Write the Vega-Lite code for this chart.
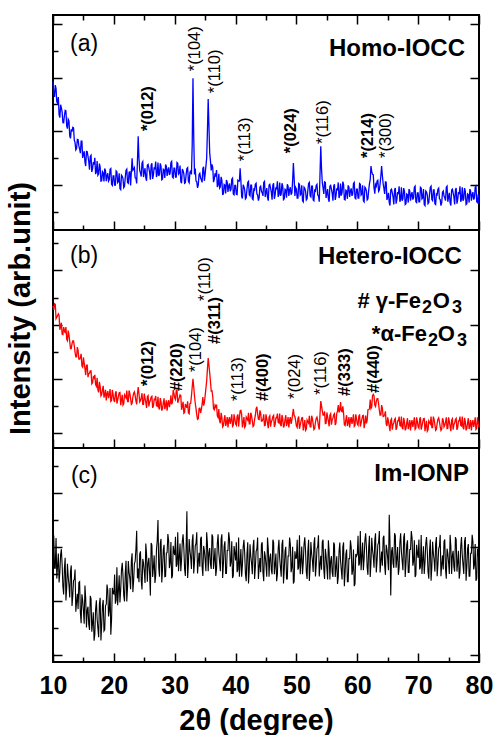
{
"$schema": "https://vega.github.io/schema/vega-lite/v6.json",
"background": "white",
"padding": {"left": 4, "top": 13, "right": 5, "bottom": 5},
"spacing": 0,
"bounds": "flush",
"config": {"view": {"stroke": "black", "strokeWidth": 2}, "font": "Liberation Sans", "text": {"font": "Liberation Sans"}},
"datasets": {
"xrd": [
{"t":10,"a":586,"b":569,"c":485},{"t":10.25,"a":528,"b":577,"c":422},{"t":10.5,"a":559,"b":522,"c":533},{"t":10.75,"a":505,"b":534,"c":429},
{"t":11,"a":462,"b":534,"c":369},{"t":11.25,"a":499,"b":494,"c":471},{"t":11.5,"a":472,"b":464,"c":436},{"t":11.75,"a":432,"b":491,"c":324},
{"t":12,"a":478,"b":469,"c":460},{"t":12.25,"a":420,"b":446,"c":349},{"t":12.5,"a":445,"b":478,"c":390},{"t":12.75,"a":383,"b":438,"c":313},
{"t":13,"a":408,"b":412,"c":432},{"t":13.25,"a":415,"b":440,"c":320},{"t":13.5,"a":367,"b":422,"c":380},{"t":13.75,"a":331,"b":381,"c":260},
{"t":14,"a":370,"b":417,"c":327},{"t":14.25,"a":346,"b":373,"c":369},{"t":14.5,"a":319,"b":379,"c":257},{"t":14.75,"a":364,"b":347,"c":325},
{"t":15,"a":315,"b":379,"c":264},{"t":15.25,"a":286,"b":338,"c":357},{"t":15.5,"a":325,"b":351,"c":202},{"t":15.75,"a":307,"b":306,"c":279},
{"t":16,"a":257,"b":321,"c":193},{"t":16.25,"a":311,"b":329,"c":308},{"t":16.5,"a":261,"b":286,"c":218},{"t":16.75,"a":276,"b":303,"c":153},
{"t":17,"a":241,"b":279,"c":269},{"t":17.25,"a":290,"b":304,"c":235},{"t":17.5,"a":242,"b":250,"c":166},{"t":17.75,"a":267,"b":272,"c":312},
{"t":18,"a":216,"b":242,"c":210},{"t":18.25,"a":245,"b":274,"c":304},{"t":18.5,"a":262,"b":242,"c":194},{"t":18.75,"a":215,"b":220,"c":288},
{"t":19,"a":244,"b":255,"c":341},{"t":19.25,"a":221,"b":242,"c":266},{"t":19.5,"a":262,"b":217,"c":175},{"t":19.75,"a":199,"b":259,"c":349},
{"t":20,"a":234,"b":222,"c":326},{"t":20.25,"a":200,"b":247,"c":290},{"t":20.5,"a":250,"b":209,"c":425},{"t":20.75,"a":213,"b":236,"c":339},
{"t":21,"a":187,"b":250,"c":295},{"t":21.25,"a":237,"b":222,"c":413},{"t":21.5,"a":224,"b":203,"c":394},{"t":21.75,"a":196,"b":241,"c":298},
{"t":22,"a":255,"b":230,"c":449},{"t":22.25,"a":210,"b":216,"c":351},{"t":22.5,"a":248,"b":257,"c":407},{"t":22.75,"a":199,"b":227,"c":344},
{"t":23,"a":300,"b":210,"c":477},{"t":23.25,"a":259,"b":247,"c":376},{"t":23.5,"a":227,"b":238,"c":448},{"t":23.75,"a":206,"b":206,"c":560},
{"t":24,"a":382,"b":270,"c":420},{"t":24.25,"a":255,"b":215,"c":474},{"t":24.5,"a":232,"b":230,"c":375},{"t":24.75,"a":288,"b":206,"c":456},
{"t":25,"a":248,"b":246,"c":409},{"t":25.25,"a":227,"b":213,"c":513},{"t":25.5,"a":274,"b":234,"c":371},{"t":25.75,"a":263,"b":198,"c":460},
{"t":26,"a":220,"b":221,"c":320},{"t":26.25,"a":281,"b":236,"c":507},{"t":26.5,"a":238,"b":200,"c":424},{"t":26.75,"a":259,"b":223,"c":367},
{"t":27,"a":230,"b":201,"c":489},{"t":27.25,"a":284,"b":234,"c":600},{"t":27.5,"a":241,"b":187,"c":390},{"t":27.75,"a":270,"b":215,"c":530},
{"t":28,"a":223,"b":190,"c":421},{"t":28.25,"a":256,"b":228,"c":508},{"t":28.5,"a":277,"b":201,"c":391},{"t":28.75,"a":234,"b":183,"c":479},
{"t":29,"a":266,"b":221,"c":524},{"t":29.25,"a":245,"b":210,"c":440},{"t":29.5,"a":288,"b":206,"c":384},{"t":29.75,"a":227,"b":259,"c":505},
{"t":30,"a":263,"b":230,"c":470},{"t":30.25,"a":230,"b":255,"c":427},{"t":30.5,"a":281,"b":212,"c":555},{"t":30.75,"a":245,"b":231,"c":461},
{"t":31,"a":213,"b":238,"c":410},{"t":31.25,"a":260,"b":200,"c":521},{"t":31.5,"a":242,"b":173,"c":496},{"t":31.75,"a":209,"b":207,"c":393},
{"t":32,"a":262,"b":193,"c":633},{"t":32.25,"a":214,"b":174,"c":436},{"t":32.5,"a":248,"b":209,"c":487},{"t":32.75,"a":240,"b":237,"c":419},
{"t":33,"a":598,"b":300,"c":547},{"t":33.25,"a":240,"b":237,"c":444},{"t":33.5,"a":215,"b":190,"c":513},{"t":33.75,"a":190,"b":151,"c":402},
{"t":34,"a":240,"b":191,"c":479},{"t":34.25,"a":226,"b":174,"c":530},{"t":34.5,"a":210,"b":206,"c":427},{"t":34.75,"a":268,"b":201,"c":504},
{"t":35,"a":241,"b":237,"c":453},{"t":35.25,"a":300,"b":292,"c":555},{"t":35.5,"a":520,"b":377,"c":410},{"t":35.75,"a":320,"b":322,"c":496},
{"t":36,"a":255,"b":255,"c":419},{"t":36.25,"a":265,"b":235,"c":538},{"t":36.5,"a":221,"b":186,"c":453},{"t":36.75,"a":232,"b":196,"c":393},
{"t":37,"a":193,"b":164,"c":513},{"t":37.25,"a":242,"b":189,"c":479},{"t":37.5,"a":194,"b":136,"c":410},{"t":37.75,"a":218,"b":158,"c":547},
{"t":38,"a":167,"b":128,"c":436},{"t":38.25,"a":199,"b":166,"c":521},{"t":38.5,"a":219,"b":139,"c":402},{"t":38.75,"a":175,"b":121,"c":487},
{"t":39,"a":206,"b":159,"c":530},{"t":39.25,"a":184,"b":148,"c":444},{"t":39.5,"a":226,"b":125,"c":385},{"t":39.75,"a":164,"b":169,"c":504},
{"t":40,"a":199,"b":134,"c":450},{"t":40.25,"a":165,"b":162,"c":407},{"t":40.5,"a":215,"b":124,"c":535},{"t":40.75,"a":263,"b":182,"c":441},
{"t":41,"a":158,"b":168,"c":390},{"t":41.25,"a":201,"b":140,"c":501},{"t":41.5,"a":182,"b":121,"c":476},{"t":41.75,"a":153,"b":159,"c":373},
{"t":42,"a":210,"b":148,"c":518},{"t":42.25,"a":164,"b":134,"c":416},{"t":42.5,"a":200,"b":175,"c":467},{"t":42.75,"a":149,"b":145,"c":399},
{"t":43,"a":185,"b":128,"c":527},{"t":43.25,"a":203,"b":165,"c":424},{"t":43.5,"a":167,"b":197,"c":493},{"t":43.75,"a":142,"b":151,"c":382},
{"t":44,"a":192,"b":184,"c":459},{"t":44.25,"a":178,"b":144,"c":510},{"t":44.5,"a":160,"b":151,"c":407},{"t":44.75,"a":214,"b":128,"c":484},
{"t":45,"a":174,"b":169,"c":433},{"t":45.25,"a":153,"b":137,"c":535},{"t":45.5,"a":200,"b":159,"c":390},{"t":45.75,"a":189,"b":124,"c":476},
{"t":46,"a":146,"b":148,"c":399},{"t":46.25,"a":207,"b":165,"c":518},{"t":46.5,"a":164,"b":131,"c":433},{"t":46.75,"a":185,"b":156,"c":373},
{"t":47,"a":156,"b":139,"c":493},{"t":47.25,"a":210,"b":172,"c":459},{"t":47.5,"a":167,"b":125,"c":390},{"t":47.75,"a":196,"b":153,"c":527},
{"t":48,"a":149,"b":128,"c":416},{"t":48.25,"a":182,"b":166,"c":501},{"t":48.5,"a":203,"b":139,"c":382},{"t":48.75,"a":160,"b":121,"c":467},
{"t":49,"a":192,"b":159,"c":510},{"t":49.25,"a":171,"b":148,"c":424},{"t":49.5,"a":282,"b":189,"c":365},{"t":49.75,"a":160,"b":161,"c":484},
{"t":50,"a":185,"b":126,"c":459},{"t":50.25,"a":152,"b":154,"c":416},{"t":50.5,"a":203,"b":116,"c":544},{"t":50.75,"a":167,"b":143,"c":450},
{"t":51,"a":142,"b":157,"c":399},{"t":51.25,"a":192,"b":129,"c":510},{"t":51.5,"a":178,"b":110,"c":485},{"t":51.75,"a":149,"b":148,"c":382},
{"t":52,"a":206,"b":137,"c":527},{"t":52.25,"a":160,"b":123,"c":425},{"t":52.5,"a":196,"b":164,"c":476},{"t":52.75,"a":145,"b":134,"c":408},
{"t":53,"a":181,"b":117,"c":536},{"t":53.25,"a":199,"b":154,"c":433},{"t":53.5,"a":163,"b":145,"c":502},{"t":53.75,"a":138,"b":113,"c":391},
{"t":54,"a":345,"b":218,"c":468},{"t":54.25,"a":210,"b":182,"c":519},{"t":54.5,"a":167,"b":166,"c":416},{"t":54.75,"a":210,"b":135,"c":493},
{"t":55,"a":170,"b":176,"c":423},{"t":55.25,"a":149,"b":144,"c":525},{"t":55.5,"a":196,"b":166,"c":380},{"t":55.75,"a":185,"b":131,"c":466},
{"t":56,"a":142,"b":155,"c":389},{"t":56.25,"a":203,"b":172,"c":508},{"t":56.5,"a":160,"b":138,"c":423},{"t":56.75,"a":181,"b":181,"c":363},
{"t":57,"a":152,"b":176,"c":483},{"t":57.25,"a":206,"b":214,"c":449},{"t":57.5,"a":173,"b":179,"c":380},{"t":57.75,"a":202,"b":173,"c":517},
{"t":58,"a":145,"b":128,"c":406},{"t":58.25,"a":178,"b":166,"c":491},{"t":58.5,"a":199,"b":139,"c":372},{"t":58.75,"a":156,"b":121,"c":457},
{"t":59,"a":188,"b":159,"c":500},{"t":59.25,"a":167,"b":148,"c":414},{"t":59.5,"a":210,"b":125,"c":355},{"t":59.75,"a":149,"b":169,"c":474},
{"t":60,"a":185,"b":134,"c":474},{"t":60.25,"a":152,"b":162,"c":431},{"t":60.5,"a":203,"b":124,"c":559},{"t":60.75,"a":167,"b":151,"c":465},
{"t":61,"a":142,"b":165,"c":414},{"t":61.25,"a":192,"b":137,"c":525},{"t":61.5,"a":178,"b":136,"c":500},{"t":61.75,"a":149,"b":186,"c":397},
{"t":62,"a":206,"b":189,"c":542},{"t":62.25,"a":271,"b":191,"c":440},{"t":62.5,"a":240,"b":238,"c":491},{"t":62.75,"a":190,"b":237,"c":423},
{"t":63,"a":202,"b":198,"c":551},{"t":63.25,"a":215,"b":227,"c":448},{"t":63.5,"a":177,"b":208,"c":517},{"t":63.75,"a":205,"b":166,"c":406},
{"t":64,"a":271,"b":203,"c":483},{"t":64.25,"a":205,"b":161,"c":534},{"t":64.5,"a":167,"b":169,"c":431},{"t":64.75,"a":211,"b":133,"c":508},
{"t":65,"a":156,"b":158,"c":457},{"t":65.25,"a":135,"b":126,"c":620},{"t":65.5,"a":182,"b":148,"c":320},{"t":65.75,"a":171,"b":113,"c":500},
{"t":66,"a":128,"b":137,"c":423},{"t":66.25,"a":189,"b":154,"c":542},{"t":66.5,"a":146,"b":120,"c":457},{"t":66.75,"a":167,"b":145,"c":397},
{"t":67,"a":138,"b":128,"c":517},{"t":67.25,"a":192,"b":161,"c":483},{"t":67.5,"a":149,"b":114,"c":414},{"t":67.75,"a":178,"b":142,"c":551},
{"t":68,"a":131,"b":117,"c":440},{"t":68.25,"a":164,"b":155,"c":525},{"t":68.5,"a":185,"b":128,"c":406},{"t":68.75,"a":142,"b":110,"c":491},
{"t":69,"a":174,"b":148,"c":534},{"t":69.25,"a":153,"b":137,"c":448},{"t":69.5,"a":196,"b":114,"c":389},{"t":69.75,"a":135,"b":158,"c":508},
{"t":70,"a":171,"b":123,"c":460},{"t":70.25,"a":138,"b":151,"c":417},{"t":70.5,"a":189,"b":113,"c":545},{"t":70.75,"a":153,"b":140,"c":451},
{"t":71,"a":128,"b":154,"c":400},{"t":71.25,"a":178,"b":126,"c":511},{"t":71.5,"a":164,"b":107,"c":486},{"t":71.75,"a":135,"b":145,"c":383},
{"t":72,"a":192,"b":134,"c":528},{"t":72.25,"a":146,"b":120,"c":426},{"t":72.5,"a":182,"b":161,"c":477},{"t":72.75,"a":131,"b":131,"c":409},
{"t":73,"a":167,"b":114,"c":537},{"t":73.25,"a":185,"b":151,"c":434},{"t":73.5,"a":149,"b":142,"c":503},{"t":73.75,"a":124,"b":110,"c":392},
{"t":74,"a":174,"b":155,"c":469},{"t":74.25,"a":160,"b":123,"c":520},{"t":74.5,"a":142,"b":140,"c":417},{"t":74.75,"a":196,"b":117,"c":494},
{"t":75,"a":156,"b":158,"c":443},{"t":75.25,"a":135,"b":126,"c":545},{"t":75.5,"a":182,"b":148,"c":400},{"t":75.75,"a":171,"b":113,"c":486},
{"t":76,"a":128,"b":137,"c":409},{"t":76.25,"a":189,"b":154,"c":528},{"t":76.5,"a":146,"b":120,"c":443},{"t":76.75,"a":167,"b":145,"c":383},
{"t":77,"a":138,"b":128,"c":503},{"t":77.25,"a":192,"b":161,"c":469},{"t":77.5,"a":149,"b":114,"c":400},{"t":77.75,"a":178,"b":142,"c":537},
{"t":78,"a":131,"b":117,"c":426},{"t":78.25,"a":164,"b":155,"c":511},{"t":78.5,"a":185,"b":128,"c":392},{"t":78.75,"a":142,"b":110,"c":477},
{"t":79,"a":174,"b":148,"c":520},{"t":79.25,"a":153,"b":137,"c":434},{"t":79.5,"a":196,"b":114,"c":375},{"t":79.75,"a":135,"b":158,"c":494},
{"t":80,"a":130,"b":122,"c":460},
{"t":10.125,"a":540,"b":554,"c":543},{"t":10.375,"a":572,"b":575,"c":422},{"t":10.625,"a":510,"b":527,"c":383},{"t":10.875,"a":528,"b":540,"c":476},
{"t":11.125,"a":451,"b":481,"c":407},{"t":11.375,"a":488,"b":507,"c":492},{"t":11.625,"a":433,"b":463,"c":354},{"t":11.875,"a":458,"b":479,"c":422},
{"t":12.125,"a":476,"b":491,"c":302},{"t":12.375,"a":410,"b":441,"c":438},{"t":12.625,"a":439,"b":462,"c":359},{"t":12.875,"a":374,"b":412,"c":410},
{"t":13.125,"a":399,"b":430,"c":282},{"t":13.375,"a":413,"b":440,"c":375},{"t":13.625,"a":358,"b":398,"c":417},{"t":13.875,"a":336,"b":381,"c":297},
{"t":14.125,"a":369,"b":404,"c":270},{"t":14.375,"a":334,"b":373,"c":372},{"t":14.625,"a":364,"b":392,"c":218},{"t":14.875,"a":301,"b":343,"c":303},
{"t":15.125,"a":326,"b":358,"c":216},{"t":15.375,"a":271,"b":314,"c":310},{"t":15.625,"a":324,"b":351,"c":266},{"t":15.875,"a":288,"b":319,"c":214},
{"t":16.125,"a":307,"b":329,"c":319},{"t":16.375,"a":249,"b":282,"c":186},{"t":16.625,"a":286,"b":307,"c":258},{"t":16.875,"a":302,"b":315,"c":177},
{"t":17.125,"a":249,"b":273,"c":303},{"t":17.375,"a":237,"b":259,"c":200},{"t":17.625,"a":280,"b":289,"c":290},{"t":17.875,"a":215,"b":237,"c":154},
{"t":18.125,"a":250,"b":261,"c":282},{"t":18.375,"a":214,"b":231,"c":189},{"t":18.625,"a":253,"b":260,"c":283},{"t":18.875,"a":235,"b":245,"c":361},
{"t":19.125,"a":215,"b":229,"c":243},{"t":19.375,"a":259,"b":262,"c":348},{"t":19.625,"a":203,"b":220,"c":232},{"t":19.875,"a":234,"b":242,"c":329},
{"t":20.125,"a":200,"b":215,"c":398},{"t":20.375,"a":253,"b":254,"c":303},{"t":20.625,"a":209,"b":222,"c":284},{"t":20.875,"a":244,"b":249,"c":395},
{"t":21.125,"a":183,"b":203,"c":342},{"t":21.375,"a":233,"b":241,"c":442},{"t":21.625,"a":191,"b":208,"c":321},{"t":21.875,"a":229,"b":235,"c":404},
{"t":22.125,"a":259,"b":257,"c":298},{"t":22.375,"a":207,"b":216,"c":448},{"t":22.625,"a":249,"b":246,"c":384},{"t":22.875,"a":250,"b":206,"c":449},
{"t":23.125,"a":255,"b":233,"c":333},{"t":23.375,"a":265,"b":252,"c":438},{"t":23.625,"a":226,"b":219,"c":492},{"t":23.875,"a":290,"b":245,"c":384},
{"t":24.125,"a":300,"b":245,"c":370},{"t":24.375,"a":245,"b":220,"c":484},{"t":24.625,"a":283,"b":247,"c":343},{"t":24.875,"a":230,"b":206,"c":441},
{"t":25.125,"a":263,"b":229,"c":367},{"t":25.375,"a":216,"b":193,"c":473},{"t":25.625,"a":277,"b":238,"c":442},{"t":25.875,"a":248,"b":215,"c":402},
{"t":26.125,"a":274,"b":233,"c":515},{"t":26.375,"a":223,"b":193,"c":389},{"t":26.625,"a":266,"b":224,"c":469},{"t":26.875,"a":288,"b":237,"c":394},
{"t":27.125,"a":241,"b":199,"c":524},{"t":27.375,"a":234,"b":193,"c":423},{"t":27.625,"a":281,"b":229,"c":512},{"t":27.875,"a":220,"b":183,"c":369},
{"t":28.125,"a":259,"b":212,"c":490},{"t":28.375,"a":227,"b":188,"c":390},{"t":28.625,"a":270,"b":221,"c":478},{"t":28.875,"a":256,"b":210,"c":548},
{"t":29.125,"a":238,"b":196,"c":422},{"t":29.375,"a":284,"b":239,"c":519},{"t":29.625,"a":230,"b":214,"c":393},{"t":29.875,"a":263,"b":246,"c":480},
{"t":30.125,"a":230,"b":224,"c":538},{"t":30.375,"a":284,"b":260,"c":436},{"t":30.625,"a":241,"b":221,"c":410},{"t":30.875,"a":273,"b":241,"c":513},
{"t":31.125,"a":207,"b":186,"c":453},{"t":31.375,"a":254,"b":215,"c":547},{"t":31.625,"a":207,"b":176,"c":419},{"t":31.875,"a":239,"b":200,"c":496},
{"t":32.125,"a":265,"b":217,"c":385},{"t":32.375,"a":209,"b":171,"c":530},{"t":32.625,"a":252,"b":210,"c":461},{"t":32.875,"a":350,"b":270,"c":521},
{"t":33.125,"a":380,"b":270,"c":402},{"t":33.375,"a":262,"b":210,"c":504},{"t":33.625,"a":212,"b":167,"c":555},{"t":33.875,"a":201,"b":153,"c":444},
{"t":34.125,"a":244,"b":192,"c":427},{"t":34.375,"a":220,"b":187,"c":538},{"t":34.625,"a":262,"b":233,"c":393},{"t":34.875,"a":216,"b":212,"c":487},
{"t":35.125,"a":270,"b":265,"c":410},{"t":35.375,"a":400,"b":335,"c":513},{"t":35.625,"a":420,"b":350,"c":479},{"t":35.875,"a":290,"b":290,"c":436},
{"t":36.125,"a":277,"b":256,"c":547},{"t":36.375,"a":211,"b":190,"c":419},{"t":36.625,"a":244,"b":203,"c":496},{"t":36.875,"a":256,"b":205,"c":419},
{"t":37.125,"a":201,"b":158,"c":547},{"t":37.375,"a":189,"b":145,"c":444},{"t":37.625,"a":231,"b":175,"c":530},{"t":37.875,"a":166,"b":123,"c":385},
{"t":38.125,"a":202,"b":150,"c":504},{"t":38.375,"a":169,"b":126,"c":402},{"t":38.625,"a":211,"b":159,"c":487},{"t":38.875,"a":196,"b":148,"c":555},
{"t":39.125,"a":177,"b":134,"c":427},{"t":39.375,"a":222,"b":169,"c":521},{"t":39.625,"a":167,"b":129,"c":393},{"t":39.875,"a":199,"b":153,"c":479},
{"t":40.125,"a":166,"b":129,"c":518},{"t":40.375,"a":218,"b":169,"c":416},{"t":40.625,"a":215,"b":155,"c":390},{"t":40.875,"a":215,"b":184,"c":493},
{"t":41.125,"a":150,"b":121,"c":433},{"t":41.375,"a":194,"b":159,"c":527},{"t":41.625,"a":149,"b":126,"c":399},{"t":41.875,"a":185,"b":153,"c":476},
{"t":42.125,"a":214,"b":175,"c":365},{"t":42.375,"a":160,"b":134,"c":510},{"t":42.625,"a":200,"b":164,"c":441},{"t":42.875,"a":146,"b":124,"c":501},
{"t":43.125,"a":182,"b":151,"c":382},{"t":43.375,"a":207,"b":190,"c":484},{"t":43.625,"a":164,"b":171,"c":535},{"t":43.875,"a":153,"b":150,"c":424},
{"t":44.125,"a":196,"b":173,"c":407},{"t":44.375,"a":171,"b":145,"c":518},{"t":44.625,"a":210,"b":169,"c":373},{"t":44.875,"a":156,"b":129,"c":467},
{"t":45.125,"a":189,"b":153,"c":390},{"t":45.375,"a":142,"b":118,"c":493},{"t":45.625,"a":203,"b":164,"c":459},{"t":45.875,"a":174,"b":142,"c":416},
{"t":46.125,"a":200,"b":161,"c":527},{"t":46.375,"a":149,"b":123,"c":399},{"t":46.625,"a":192,"b":156,"c":476},{"t":46.875,"a":214,"b":172,"c":399},
{"t":47.125,"a":167,"b":137,"c":527},{"t":47.375,"a":160,"b":131,"c":424},{"t":47.625,"a":207,"b":167,"c":510},{"t":47.875,"a":146,"b":121,"c":365},
{"t":48.125,"a":185,"b":150,"c":484},{"t":48.375,"a":153,"b":126,"c":382},{"t":48.625,"a":196,"b":159,"c":467},{"t":48.875,"a":182,"b":148,"c":535},
{"t":49.125,"a":164,"b":134,"c":407},{"t":49.375,"a":215,"b":170,"c":501},{"t":49.625,"a":225,"b":165,"c":373},{"t":49.875,"a":191,"b":145,"c":459},
{"t":50.125,"a":152,"b":121,"c":527},{"t":50.375,"a":206,"b":161,"c":425},{"t":50.625,"a":163,"b":129,"c":399},{"t":50.875,"a":199,"b":156,"c":502},
{"t":51.125,"a":138,"b":110,"c":442},{"t":51.375,"a":188,"b":148,"c":536},{"t":51.625,"a":145,"b":115,"c":408},{"t":51.875,"a":181,"b":142,"c":485},
{"t":52.125,"a":210,"b":164,"c":374},{"t":52.375,"a":156,"b":123,"c":519},{"t":52.625,"a":196,"b":153,"c":450},{"t":52.875,"a":142,"b":113,"c":510},
{"t":53.125,"a":178,"b":140,"c":391},{"t":53.375,"a":203,"b":159,"c":493},{"t":53.625,"a":160,"b":126,"c":544},{"t":53.875,"a":240,"b":170,"c":433},
{"t":54.125,"a":260,"b":200,"c":416},{"t":54.375,"a":190,"b":166,"c":527},{"t":54.625,"a":212,"b":180,"c":382},{"t":54.875,"a":152,"b":136,"c":467},
{"t":55.125,"a":185,"b":160,"c":380},{"t":55.375,"a":138,"b":125,"c":483},{"t":55.625,"a":199,"b":171,"c":449},{"t":55.875,"a":170,"b":149,"c":406},
{"t":56.125,"a":196,"b":168,"c":517},{"t":56.375,"a":145,"b":130,"c":389},{"t":56.625,"a":188,"b":172,"c":466},{"t":56.875,"a":210,"b":203,"c":389},
{"t":57.125,"a":163,"b":185,"c":517},{"t":57.375,"a":161,"b":182,"c":414},{"t":57.625,"a":213,"b":199,"c":500},{"t":57.875,"a":147,"b":131,"c":355},
{"t":58.125,"a":181,"b":150,"c":474},{"t":58.375,"a":149,"b":126,"c":372},{"t":58.625,"a":192,"b":159,"c":457},{"t":58.875,"a":178,"b":148,"c":525},
{"t":59.125,"a":160,"b":134,"c":397},{"t":59.375,"a":206,"b":169,"c":491},{"t":59.625,"a":152,"b":129,"c":363},{"t":59.875,"a":185,"b":153,"c":466},
{"t":60.125,"a":152,"b":129,"c":542},{"t":60.375,"a":206,"b":169,"c":440},{"t":60.625,"a":163,"b":137,"c":414},{"t":60.875,"a":199,"b":164,"c":517},
{"t":61.125,"a":138,"b":118,"c":457},{"t":61.375,"a":188,"b":165,"c":551},{"t":61.625,"a":145,"b":147,"c":423},{"t":61.875,"a":181,"b":187,"c":500},
{"t":62.125,"a":220,"b":224,"c":389},{"t":62.375,"a":250,"b":197,"c":534},{"t":62.625,"a":239,"b":243,"c":465},{"t":62.875,"a":168,"b":203,"c":525},
{"t":63.125,"a":196,"b":217,"c":406},{"t":63.375,"a":218,"b":227,"c":508},{"t":63.625,"a":182,"b":184,"c":559},{"t":63.875,"a":235,"b":167,"c":448},
{"t":64.125,"a":235,"b":191,"c":431},{"t":64.375,"a":188,"b":162,"c":542},{"t":64.625,"a":212,"b":180,"c":397},{"t":64.875,"a":145,"b":126,"c":491},
{"t":65.125,"a":171,"b":142,"c":414},{"t":65.375,"a":124,"b":107,"c":517},{"t":65.625,"a":185,"b":153,"c":483},{"t":65.875,"a":156,"b":131,"c":440},
{"t":66.125,"a":182,"b":150,"c":551},{"t":66.375,"a":131,"b":112,"c":423},{"t":66.625,"a":174,"b":145,"c":500},{"t":66.875,"a":196,"b":161,"c":423},
{"t":67.125,"a":149,"b":126,"c":551},{"t":67.375,"a":142,"b":120,"c":448},{"t":67.625,"a":189,"b":156,"c":534},{"t":67.875,"a":128,"b":110,"c":389},
{"t":68.125,"a":167,"b":139,"c":508},{"t":68.375,"a":135,"b":115,"c":406},{"t":68.625,"a":178,"b":148,"c":491},{"t":68.875,"a":164,"b":137,"c":559},
{"t":69.125,"a":146,"b":123,"c":431},{"t":69.375,"a":192,"b":158,"c":525},{"t":69.625,"a":138,"b":118,"c":397},{"t":69.875,"a":171,"b":142,"c":476},
{"t":70.125,"a":138,"b":118,"c":528},{"t":70.375,"a":192,"b":158,"c":426},{"t":70.625,"a":149,"b":126,"c":400},{"t":70.875,"a":185,"b":153,"c":503},
{"t":71.125,"a":124,"b":107,"c":443},{"t":71.375,"a":174,"b":145,"c":537},{"t":71.625,"a":131,"b":112,"c":409},{"t":71.875,"a":167,"b":139,"c":486},
{"t":72.125,"a":196,"b":161,"c":375},{"t":72.375,"a":142,"b":120,"c":520},{"t":72.625,"a":182,"b":150,"c":451},{"t":72.875,"a":128,"b":110,"c":511},
{"t":73.125,"a":164,"b":137,"c":392},{"t":73.375,"a":189,"b":156,"c":494},{"t":73.625,"a":146,"b":123,"c":545},{"t":73.875,"a":135,"b":115,"c":434},
{"t":74.125,"a":178,"b":148,"c":417},{"t":74.375,"a":153,"b":129,"c":528},{"t":74.625,"a":192,"b":158,"c":383},{"t":74.875,"a":138,"b":118,"c":477},
{"t":75.125,"a":171,"b":142,"c":400},{"t":75.375,"a":124,"b":107,"c":503},{"t":75.625,"a":185,"b":153,"c":469},{"t":75.875,"a":156,"b":131,"c":426},
{"t":76.125,"a":182,"b":150,"c":537},{"t":76.375,"a":131,"b":112,"c":409},{"t":76.625,"a":174,"b":145,"c":486},{"t":76.875,"a":196,"b":161,"c":409},
{"t":77.125,"a":149,"b":126,"c":537},{"t":77.375,"a":142,"b":120,"c":434},{"t":77.625,"a":189,"b":156,"c":520},{"t":77.875,"a":128,"b":110,"c":375},
{"t":78.125,"a":167,"b":139,"c":494},{"t":78.375,"a":135,"b":115,"c":392},{"t":78.625,"a":178,"b":148,"c":477},{"t":78.875,"a":164,"b":137,"c":545},
{"t":79.125,"a":146,"b":123,"c":417},{"t":79.375,"a":192,"b":158,"c":511},{"t":79.625,"a":138,"b":118,"c":383},{"t":79.875,"a":166,"b":136,"c":469}
],
"lab": [
{"p":"a","t":25.6,"i":401,"s":"*(012)"},{"p":"a","t":33.4,"i":624,"s":"*(104)"},{"p":"a","t":36.6,"i":542,"s":"*(110)"},{"p":"a","t":41.5,"i":289,"s":"*(113)"},
{"p":"a","t":49.1,"i":319,"s":"*(024)"},{"p":"a","t":54.4,"i":353,"s":"*(116)"},{"p":"a","t":61.8,"i":301,"s":"*(214)"},{"p":"a","t":64.7,"i":301,"s":"*(300)"},
{"p":"b","t":25.6,"i":274,"s":"*(012)"},{"p":"b","t":30.4,"i":255,"s":"#(220)"},{"p":"b","t":33.5,"i":325,"s":"*(104)"},{"p":"b","t":35.0,"i":587,"s":"*(110)"},
{"p":"b","t":36.6,"i":429,"s":"#(311)"},{"p":"b","t":40.4,"i":218,"s":"*(113)"},{"p":"b","t":44.5,"i":218,"s":"#(400)"},{"p":"b","t":49.8,"i":226,"s":"*(024)"},
{"p":"b","t":54.0,"i":241,"s":"*(116)"},{"p":"b","t":58.0,"i":237,"s":"#(333)"},{"p":"b","t":62.7,"i":248,"s":"#(440)"}
],
"ttl": [
{"p":"a","k":"tag","t":12.8,"i":698,"s":"(a)"},{"p":"a","k":"name","t":77.7,"i":680,"s":"Homo-IOCC"},
{"p":"b","k":"tag","t":12.8,"i":728,"s":"(b)"},{"p":"b","k":"name","t":77.2,"i":724,"s":"Hetero-IOCC"},
{"p":"c","k":"tag","t":12.95,"i":736,"s":"(c)"},{"p":"c","k":"name","t":78.35,"i":744,"s":"Im-IONP"}
],
"leg": [
{"k":"main","t":70.47,"i":562,"s":"# γ-Fe"},{"k":"sub","t":70.63,"i":543,"s":"2"},{"k":"main","t":75.23,"i":562,"s":"O"},{"k":"sub","t":75.56,"i":543,"s":"3"},
{"k":"main","t":71.45,"i":440,"s":"*α-Fe"},{"k":"sub","t":71.62,"i":421,"s":"2"},{"k":"main","t":76.05,"i":440,"s":"O"},{"k":"sub","t":76.38,"i":421,"s":"3"}
]
},
"vconcat": [
{
"width": 426, "height": 215,
"resolve": {"axis": {"x": "independent", "y": "independent"}},
"layer": [
{"data": {"name": "xrd"}, "mark": {"type": "line", "color": "#0000ff", "strokeWidth": 1.3},
 "encoding": {
  "x": {"field": "t", "type": "quantitative", "scale": {"domain": [10, 80], "nice": false, "zero": false},
        "axis": {"orient": "bottom", "values": [10,15,20,25,30,35,40,45,50,55,60,65,70,75,80], "labels": false, "title": null, "domain": false, "grid": false, "tickColor": "black", "tickWidth": 1.5, "tickSize": {"condition": {"test": "datum.value % 10 !== 0", "value": -5}, "value": -9}}},
  "y": {"field": "a", "type": "quantitative", "scale": {"domain": [33, 833], "nice": false, "zero": false},
        "axis": {"orient": "left", "values": [100,200,300,400,500,600,700,800], "labels": false, "title": null, "domain": false, "grid": false, "tickColor": "black", "tickWidth": 1.5, "tickSize": {"condition": {"test": "datum.value % 200 !== 0", "value": -5}, "value": -9}}}
 }},
{"data": {"name": "lab"}, "transform": [{"filter": {"and": [{"field": "p", "equal": "a"}, {"not": {"field": "s", "oneOf": ["*(012)", "*(024)", "*(214)"]}}]}}],
 "mark": {"type": "text", "angle": 270, "align": "left", "baseline": "middle", "fontSize": 16.5, "color": "black"},
 "encoding": {
  "x": {"field": "t", "type": "quantitative", "scale": {"domain": [10, 80], "nice": false, "zero": false},
        "axis": {"orient": "top", "values": [10,15,20,25,30,35,40,45,50,55,60,65,70,75,80], "labels": false, "title": null, "domain": false, "grid": false, "tickColor": "black", "tickWidth": 1.5, "tickSize": {"condition": {"test": "datum.value % 10 !== 0", "value": -5}, "value": -9}}},
  "y": {"field": "i", "type": "quantitative", "scale": {"domain": [33, 833], "nice": false, "zero": false},
        "axis": {"orient": "right", "values": [200,400,600,800], "labels": false, "title": null, "domain": false, "grid": false, "tickColor": "black", "tickWidth": 1.5, "tickSize": -9}},
  "text": {"field": "s"}
 }},
{"data": {"name": "lab"}, "transform": [{"filter": {"and": [{"field": "p", "equal": "a"}, {"field": "s", "oneOf": ["*(012)", "*(024)", "*(214)"]}]}}],
 "mark": {"type": "text", "angle": 270, "align": "left", "baseline": "middle", "fontSize": 16.5, "fontWeight": "bold", "color": "black"},
 "encoding": {
  "x": {"field": "t", "type": "quantitative", "scale": {"domain": [10, 80], "nice": false, "zero": false}, "axis": null},
  "y": {"field": "i", "type": "quantitative", "scale": {"domain": [33, 833], "nice": false, "zero": false}, "axis": null},
  "text": {"field": "s"}
 }},
{"data": {"name": "ttl"}, "transform": [{"filter": {"and": [{"field": "p", "equal": "a"}, {"field": "k", "equal": "tag"}]}}],
 "mark": {"type": "text", "align": "left", "baseline": "alphabetic", "fontSize": 23, "color": "black"},
 "encoding": {
  "x": {"field": "t", "type": "quantitative", "scale": {"domain": [10, 80], "nice": false, "zero": false}, "axis": null},
  "y": {"field": "i", "type": "quantitative", "scale": {"domain": [33, 833], "nice": false, "zero": false}, "axis": null},
  "text": {"field": "s"}
 }},
{"data": {"name": "ttl"}, "transform": [{"filter": {"and": [{"field": "p", "equal": "a"}, {"field": "k", "equal": "name"}]}}],
 "mark": {"type": "text", "align": "right", "baseline": "alphabetic", "fontSize": 24, "fontWeight": "bold", "color": "black"},
 "encoding": {
  "x": {"field": "t", "type": "quantitative", "scale": {"domain": [10, 80], "nice": false, "zero": false}, "axis": null},
  "y": {"field": "i", "type": "quantitative", "scale": {"domain": [33, 833], "nice": false, "zero": false}, "axis": null},
  "text": {"field": "s"}
 }}
]
},
{
"width": 426, "height": 218,
"resolve": {"axis": {"x": "independent", "y": "independent"}},
"layer": [
{"data": {"name": "xrd"}, "mark": {"type": "line", "color": "#ff0000", "strokeWidth": 1.3},
 "encoding": {
  "x": {"field": "t", "type": "quantitative", "scale": {"domain": [10, 80], "nice": false, "zero": false},
        "axis": {"orient": "bottom", "values": [10,15,20,25,30,35,40,45,50,55,60,65,70,75,80], "labels": false, "title": null, "domain": false, "grid": false, "tickColor": "black", "tickWidth": 1.5, "tickSize": {"condition": {"test": "datum.value % 10 !== 0", "value": -5}, "value": -9}}},
  "y": {"field": "b", "type": "quantitative", "scale": {"domain": [45, 849], "nice": false, "zero": false},
        "axis": {"orient": "left", "values": [100,200,300,400,500,600,700,800], "labels": false, "domain": false, "grid": false, "tickColor": "black", "tickWidth": 1.5, "tickSize": {"condition": {"test": "datum.value % 200 === 0", "value": -5}, "value": -9},
                 "title": "Intensity (arb.unit)", "titleFont": "Liberation Sans", "titleFontSize": 29, "titleFontWeight": "bold", "titleColor": "black", "titleAngle": 270, "titleAlign": "center", "titleBaseline": "bottom", "titleX": -18, "titleY": 78}}
 }},
{"data": {"name": "lab"}, "transform": [{"filter": {"and": [{"field": "p", "equal": "b"}, {"not": {"field": "s", "oneOf": ["*(012)", "#(220)", "#(311)", "#(400)", "#(333)", "#(440)"]}}]}}],
 "mark": {"type": "text", "angle": 270, "align": "left", "baseline": "middle", "fontSize": 16.5, "color": "black"},
 "encoding": {
  "x": {"field": "t", "type": "quantitative", "scale": {"domain": [10, 80], "nice": false, "zero": false}, "axis": null},
  "y": {"field": "i", "type": "quantitative", "scale": {"domain": [45, 849], "nice": false, "zero": false},
        "axis": {"orient": "right", "values": [100,300,500,700], "labels": false, "title": null, "domain": false, "grid": false, "tickColor": "black", "tickWidth": 1.5, "tickSize": -9}},
  "text": {"field": "s"}
 }},
{"data": {"name": "lab"}, "transform": [{"filter": {"and": [{"field": "p", "equal": "b"}, {"field": "s", "oneOf": ["*(012)", "#(220)", "#(311)", "#(400)", "#(333)", "#(440)"]}]}}],
 "mark": {"type": "text", "angle": 270, "align": "left", "baseline": "middle", "fontSize": 16.5, "fontWeight": "bold", "color": "black"},
 "encoding": {
  "x": {"field": "t", "type": "quantitative", "scale": {"domain": [10, 80], "nice": false, "zero": false}, "axis": null},
  "y": {"field": "i", "type": "quantitative", "scale": {"domain": [45, 849], "nice": false, "zero": false}, "axis": null},
  "text": {"field": "s"}
 }},
{"data": {"name": "ttl"}, "transform": [{"filter": {"and": [{"field": "p", "equal": "b"}, {"field": "k", "equal": "tag"}]}}],
 "mark": {"type": "text", "align": "left", "baseline": "alphabetic", "fontSize": 23, "color": "black"},
 "encoding": {
  "x": {"field": "t", "type": "quantitative", "scale": {"domain": [10, 80], "nice": false, "zero": false}, "axis": null},
  "y": {"field": "i", "type": "quantitative", "scale": {"domain": [45, 849], "nice": false, "zero": false}, "axis": null},
  "text": {"field": "s"}
 }},
{"data": {"name": "ttl"}, "transform": [{"filter": {"and": [{"field": "p", "equal": "b"}, {"field": "k", "equal": "name"}]}}],
 "mark": {"type": "text", "align": "right", "baseline": "alphabetic", "fontSize": 24, "fontWeight": "bold", "color": "black"},
 "encoding": {
  "x": {"field": "t", "type": "quantitative", "scale": {"domain": [10, 80], "nice": false, "zero": false}, "axis": null},
  "y": {"field": "i", "type": "quantitative", "scale": {"domain": [45, 849], "nice": false, "zero": false}, "axis": null},
  "text": {"field": "s"}
 }},
{"data": {"name": "leg"}, "transform": [{"filter": {"field": "k", "equal": "main"}}],
 "mark": {"type": "text", "align": "right", "baseline": "alphabetic", "fontSize": 22, "fontWeight": "bold", "color": "black"},
 "encoding": {
  "x": {"field": "t", "type": "quantitative", "scale": {"domain": [10, 80], "nice": false, "zero": false}, "axis": null},
  "y": {"field": "i", "type": "quantitative", "scale": {"domain": [45, 849], "nice": false, "zero": false}, "axis": null},
  "text": {"field": "s"}
 }},
{"data": {"name": "leg"}, "transform": [{"filter": {"field": "k", "equal": "sub"}}],
 "mark": {"type": "text", "align": "left", "baseline": "alphabetic", "fontSize": 18, "fontWeight": "bold", "color": "black"},
 "encoding": {
  "x": {"field": "t", "type": "quantitative", "scale": {"domain": [10, 80], "nice": false, "zero": false}, "axis": null},
  "y": {"field": "i", "type": "quantitative", "scale": {"domain": [45, 849], "nice": false, "zero": false}, "axis": null},
  "text": {"field": "s"}
 }}
]
},
{
"width": 426, "height": 214,
"resolve": {"axis": {"x": "independent", "y": "independent"}},
"layer": [
{"data": {"name": "xrd"}, "mark": {"type": "line", "color": "#000000", "strokeWidth": 1.1},
 "encoding": {
  "x": {"field": "t", "type": "quantitative", "scale": {"domain": [10, 80], "nice": false, "zero": false},
        "axis": {"orient": "bottom", "values": [10,15,20,25,30,35,40,45,50,55,60,65,70,75,80], "domain": false, "grid": false, "tickColor": "black", "tickWidth": 1.5, "tickSize": {"condition": {"test": "datum.value % 10 !== 0", "value": -5}, "value": -9},
                 "labels": true, "labelExpr": "datum.value % 10 === 0 ? datum.label : ''", "labelFont": "Liberation Sans", "labelFontSize": 25, "labelFontWeight": "bold", "labelColor": "black", "labelPadding": 20, "labelFlush": false, "labelOverlap": false,
                 "title": "2θ (degree)", "titleFont": "Liberation Sans", "titleFontSize": 29, "titleFontWeight": "bold", "titleColor": "black", "titleX": 203, "titleY": 67, "titleBaseline": "alphabetic"}},
  "y": {"field": "c", "type": "quantitative", "scale": {"domain": [74, 867], "nice": false, "zero": false},
        "axis": {"orient": "left", "values": [100,200,300,400,500,600,700,800], "labels": false, "title": null, "domain": false, "grid": false, "tickColor": "black", "tickWidth": 1.5, "tickSize": {"condition": {"test": "datum.value % 200 === 0", "value": -5}, "value": -9}}}
 }},
{"data": {"name": "ttl"}, "transform": [{"filter": {"and": [{"field": "p", "equal": "c"}, {"field": "k", "equal": "tag"}]}}],
 "mark": {"type": "text", "align": "left", "baseline": "alphabetic", "fontSize": 23, "color": "black"},
 "encoding": {
  "x": {"field": "t", "type": "quantitative", "scale": {"domain": [10, 80], "nice": false, "zero": false}, "axis": null},
  "y": {"field": "i", "type": "quantitative", "scale": {"domain": [74, 867], "nice": false, "zero": false},
        "axis": {"orient": "right", "values": [100,300,500,700], "labels": false, "title": null, "domain": false, "grid": false, "tickColor": "black", "tickWidth": 1.5, "tickSize": -9}},
  "text": {"field": "s"}
 }},
{"data": {"name": "ttl"}, "transform": [{"filter": {"and": [{"field": "p", "equal": "c"}, {"field": "k", "equal": "name"}]}}],
 "mark": {"type": "text", "align": "right", "baseline": "alphabetic", "fontSize": 24, "fontWeight": "bold", "color": "black"},
 "encoding": {
  "x": {"field": "t", "type": "quantitative", "scale": {"domain": [10, 80], "nice": false, "zero": false}, "axis": null},
  "y": {"field": "i", "type": "quantitative", "scale": {"domain": [74, 867], "nice": false, "zero": false}, "axis": null},
  "text": {"field": "s"}
 }}
]
}
]
}
